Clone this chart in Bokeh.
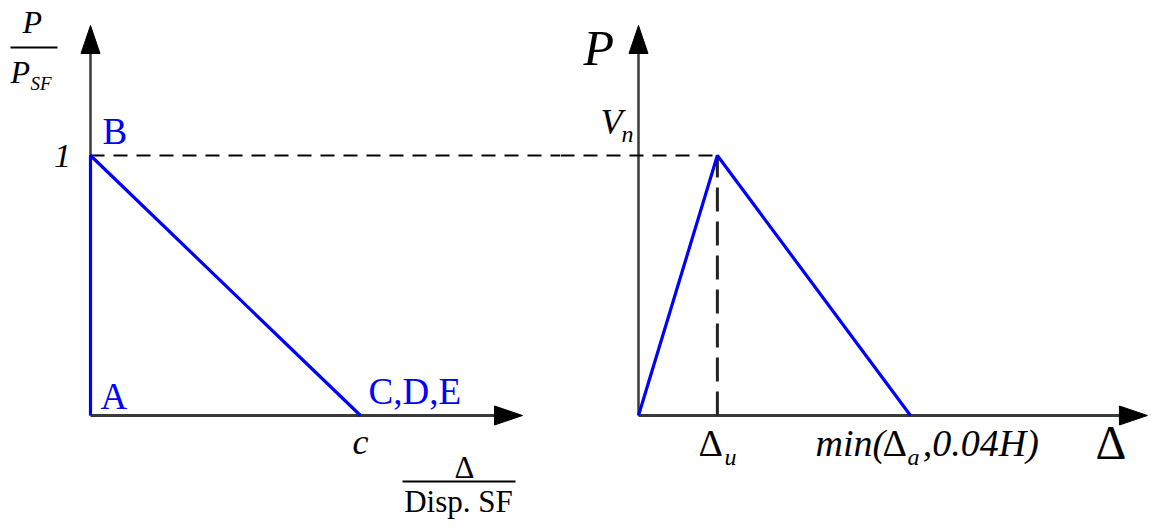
from bokeh.plotting import figure
from bokeh.models import Range1d, Label
from bokeh.layouts import row
from bokeh.embed import file_html
from bokeh.resources import INLINE

# ---- data -------------------------------------------------------------
# Left panel: normalized backbone, P/P_SF versus Δ/Disp.SF (c = 1)
left_names = ["A", "B", "C,D,E"]
left_x = [0.0, 0.0, 1.0]
left_y = [0.0, 1.0, 0.0]

# Right panel: P versus Δ -> (0, 0), (Δu, Vn), (min(Δa, 0.04H), 0)
right_x = [0.0, 0.29, 1.0]
right_y = [0.0, 1.0, 0.0]
delta_u = right_x[1]
v_n = right_y[1]

# ---- layout constants (pixels) ---------------------------------------
H = 530
LEFT_W, RIGHT_W = 560, 591
SY = 260                      # px per unit on both vertical axes
SX_L, SX_R = 270, 272         # px per unit on the horizontal axes
OX_L, OX_R, OY = 90, 78, 415  # origin position inside each panel
AXIS_END_L = (1.6, 1.5)
AXIS_END_R = (1.871, 1.5)
HEAD_LEN, HEAD_W = 28, 19
BASELINE_SHIFT = 0.37         # lifts "alphabetic" labels onto their baseline

BLUE = "#0000ff"
AXIS_COLOR = "#3a3a3a"
SERIF = "Liberation Serif"


def make_panel(width, sx, ox):
    p = figure(width=width, height=H, output_backend="svg", toolbar_location=None,
               x_range=Range1d(-ox / sx, (width - ox) / sx),
               y_range=Range1d(-(H - OY) / SY, OY / SY),
               x_axis_type=None, y_axis_type=None, min_border=0,
               outline_line_color=None, background_fill_color="white",
               border_fill_color="white")
    p.grid.visible = False
    return p


def draw_axes(p, sx, x_end, y_end):
    hl_x, hw_x = HEAD_LEN / sx, HEAD_W / 2 / SY
    hl_y, hw_y = HEAD_LEN / SY, HEAD_W / 2 / sx
    p.line([0, x_end - hl_x], [0, 0], line_color=AXIS_COLOR, line_width=3)
    p.line([0, 0], [0, y_end - hl_y], line_color=AXIS_COLOR, line_width=2.5)
    p.patch([x_end - hl_x, x_end, x_end - hl_x], [-hw_x, 0, hw_x],
            fill_color="black", line_color="black", line_width=1)
    p.patch([-hw_y, 0, hw_y], [y_end - hl_y, y_end, y_end - hl_y],
            fill_color="black", line_color="black", line_width=1)


def label(p, x, y, text, size, color="black", italic=False, align="left",
          baseline="alphabetic", dx=0, dy=0):
    if baseline == "alphabetic":
        dy += BASELINE_SHIFT * size
    p.add_layout(Label(x=x, y=y, text=text, x_offset=dx, y_offset=dy,
                       text_font=SERIF, text_font_size=f"{size}px",
                       text_font_style="italic" if italic else "normal",
                       text_color=color, text_align=align, text_baseline=baseline))


# ---- left panel -------------------------------------------------------
pl = make_panel(LEFT_W, SX_L, OX_L)
draw_axes(pl, SX_L, *AXIS_END_L)
pl.line([0, pl.x_range.end], [1, 1], line_color="black", line_width=2, line_dash="14 9")
pl.line(left_x, left_y, line_color=BLUE, line_width=3.2)

# vertical axis title P / P_SF
label(pl, -0.2519, 1.4692, "P", 32, italic=True)
pl.line([-0.2963, -0.1222], [1.4154, 1.4154], line_color="black", line_width=2)
label(pl, -0.2963, 1.2769, "P", 32, italic=True)
label(pl, -0.2222, 1.25, "SF", 19, italic=True)

label(pl, 0, 1, "1", 34, italic=True, align="center", baseline="middle", dx=-28)
label(pl, left_x[1], left_y[1], left_names[1], 37, BLUE, dx=12, dy=10)
label(pl, left_x[0], left_y[0], left_names[0], 37, BLUE, dx=10, dy=5)
label(pl, left_x[2], left_y[2], left_names[2], 37, BLUE, dx=8, dy=10)
label(pl, left_x[2], 0, "c", 36, italic=True, align="center", baseline="top", dy=-6)

# horizontal axis title Δ / Disp.SF
label(pl, 1.385, -0.2423, "Δ", 31, align="center")
pl.line([1.1556, 1.574], [-0.2538, -0.2538], line_color="black", line_width=2)
label(pl, 1.363, -0.3731, "Disp. SF", 31, align="center")

# ---- right panel ------------------------------------------------------
pr = make_panel(RIGHT_W, SX_R, OX_R)
draw_axes(pr, SX_R, *AXIS_END_R)
pr.line([pr.x_range.start, delta_u], [v_n, v_n], line_color="black", line_width=2,
        line_dash="14 9")
pr.line([delta_u, delta_u], [0, v_n], line_color="#222222", line_width=3,
        line_dash="24 10")
pr.line(right_x, right_y, line_color=BLUE, line_width=3.2)

label(pr, -0.2022, 1.3423, "P", 50, italic=True)
label(pr, -0.1397, 1.0769, "V", 36, italic=True)
label(pr, -0.0625, 1.05, "n", 24, italic=True)

label(pr, 0.2206, -0.1615, "Δ", 38)
label(pr, 0.3162, -0.1923, "u", 24, italic=True)

label(pr, 0.6507, -0.1615, "min(", 38, italic=True)
label(pr, 0.8970, -0.1615, "Δ", 38)
label(pr, 0.9890, -0.1923, "a", 24, italic=True)
label(pr, 1.0450, -0.1615, ",0.04H)", 38, italic=True)

label(pr, 1.680, -0.173, "Δ", 48)

layout = row(pl, pr, spacing=0)
open("out.html", "w").write(file_html(layout, INLINE))
